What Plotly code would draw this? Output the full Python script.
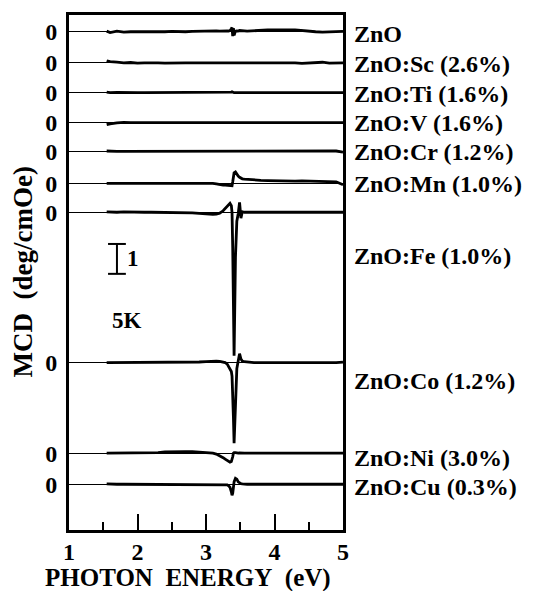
import plotly.graph_objects as go

# ---------------- data ----------------
energy = [1.55, 1.6, 1.7, 1.8, 1.9, 2.0, 2.1, 2.2, 2.3, 2.4, 2.5, 2.6, 2.7, 2.8, 2.9, 3.0,
          3.05, 3.1, 3.15, 3.2, 3.25, 3.28, 3.31, 3.33, 3.35, 3.37, 3.38, 3.39, 3.40, 3.41,
          3.43, 3.45, 3.47, 3.49, 3.51, 3.53, 3.56, 3.6, 3.65, 3.7,
          3.8, 3.9, 4.0, 4.1, 4.2, 4.3, 4.4, 4.5, 4.6, 4.7, 4.8, 4.9, 5.0]

samples = ["ZnO", "ZnO:Sc (2.6%)", "ZnO:Ti (1.6%)", "ZnO:V (1.6%)", "ZnO:Cr (1.2%)",
           "ZnO:Mn (1.0%)", "ZnO:Fe (1.0%)", "ZnO:Co (1.2%)", "ZnO:Ni (3.0%)", "ZnO:Cu (0.3%)"]

# vertical offset of each spectrum's zero line (deg/cmOe)
baseline_offsets = [16.67, 15.63, 14.63, 13.63, 12.67, 11.60, 10.63, 5.60, 2.57, 1.53]

mcd_zno = [0.02, -0.03, 0.02, -0.01, 0.0, 0.01, 0.0, 0.0, -0.01, 0.0, 0.01, 0.0, 0.0, 0.01, 0.02, 0.02,
           0.03, 0.02, 0.03, 0.02, 0.03, 0.02, 0.03, 0.02, 0.04, 0.1, 0.14, -0.15, 0.12, -0.12,
           0.02, 0.03, 0.02, 0.04, 0.03, 0.02, 0.03, 0.02, 0.03, 0.03,
           0.04, 0.06, 0.06, 0.07, 0.06, 0.06, 0.04, 0.0, 0.0, -0.01, 0.0, 0.0, 0.01]
mcd_sc = [0.07, 0.04, 0.02, 0.0, 0.01, -0.01, 0.0, 0.01, 0.0, -0.01, 0.0, 0.0, 0.0, 0.0, 0.0, 0.0,
          0.0, 0.01, 0.0, 0.01, 0.0, 0.01, 0.0, 0.0, 0.01, 0.02, 0.01, 0.0, 0.02, 0.0,
          0.0, 0.0, 0.01, 0.0, 0.0, 0.01, 0.0, 0.0, 0.01, 0.0,
          0.0, 0.0, 0.0, 0.0, 0.01, 0.0, -0.02, 0.0, 0.0, 0.02, -0.01, 0.0, 0.0]
mcd_ti = [0.02, 0.0, 0.01, 0.0, 0.01, 0.0, 0.0, 0.0, 0.0, 0.0, 0.0, 0.0, 0.0, 0.0, 0.0, 0.0,
          0.0, 0.0, 0.0, 0.0, 0.0, 0.0, 0.0, 0.0, 0.0, 0.02, 0.03, 0.01, 0.0, 0.0,
          0.0, 0.0, 0.0, 0.0, 0.0, 0.0, 0.0, 0.0, 0.0, 0.0,
          0.0, 0.0, 0.0, 0.0, 0.01, 0.0, 0.0, 0.02, 0.0, 0.0, 0.0, 0.02, 0.0]
mcd_v = [-0.07, -0.04, -0.01, 0.01, 0.0, 0.01, 0.0, 0.0, 0.0, 0.0, 0.0, 0.0, 0.0, 0.0, 0.0, 0.0,
         0.0, 0.0, 0.0, 0.0, 0.0, 0.0, 0.0, 0.0, 0.01, 0.02, 0.01, 0.01, 0.02, 0.02,
         0.02, 0.02, 0.02, 0.01, 0.02, 0.02, 0.01, 0.01, 0.02, 0.01,
         0.0, 0.0, 0.0, 0.0, 0.0, 0.0, 0.0, 0.01, 0.0, 0.0, 0.0, 0.01, 0.0]
mcd_cr = [0.01, 0.0, 0.0, 0.0, 0.0, 0.0, 0.0, 0.0, 0.0, 0.0, 0.0, 0.0, 0.0, 0.0, 0.0, 0.0,
          0.0, 0.0, 0.0, 0.0, 0.0, 0.0, 0.0, 0.0, 0.0, 0.01, 0.02, 0.02, 0.01, 0.01,
          0.01, 0.01, 0.01, 0.01, 0.01, 0.01, 0.01, 0.01, 0.01, 0.01,
          0.01, 0.01, 0.02, 0.01, 0.01, 0.01, 0.01, 0.01, 0.01, 0.02, 0.01, 0.01, -0.03]
mcd_mn = [0.0, 0.0, 0.0, 0.0, 0.0, 0.0, 0.0, 0.0, 0.0, 0.0, 0.0, 0.0, 0.0, 0.01, 0.01, 0.0,
          0.0, 0.0, -0.02, -0.05, -0.06, -0.06, -0.07, -0.08, -0.09, -0.1, -0.08, 0.05, 0.25, 0.35,
          0.38, 0.3, 0.24, 0.2, 0.17, 0.15, 0.14, 0.13, 0.12, 0.12,
          0.1, 0.09, 0.08, 0.08, 0.07, 0.07, 0.08, 0.07, 0.07, 0.06, 0.06, 0.05, -0.05]
mcd_fe = [0.01, 0.0, 0.0, 0.01, 0.0, 0.0, 0.0, 0.0, 0.0, 0.0, 0.0, 0.0, -0.01, -0.02, -0.04, -0.06,
          -0.07, -0.07, -0.06, -0.03, 0.05, 0.12, 0.2, 0.26, 0.3, 0.22, 0.0, -1.2, -3.5, -4.8,
          -1.5, -0.3, -0.05, 0.33, -0.2, 0.02, 0.0, 0.0, 0.0, 0.0,
          0.0, 0.0, 0.0, 0.0, 0.0, 0.0, 0.0, 0.0, 0.0, 0.0, 0.0, 0.0, 0.0]
mcd_co = [0.0, 0.0, 0.0, 0.0, 0.0, 0.0, 0.0, 0.0, 0.0, 0.0, 0.0, 0.0, 0.0, 0.0, 0.02, 0.03,
          0.04, 0.05, 0.05, 0.04, 0.02, 0.0, -0.05, -0.12, -0.2, -0.3, -0.45, -0.9, -1.8, -2.7,
          -1.2, -0.2, 0.05, 0.3, 0.12, 0.05, 0.03, 0.02, 0.01, 0.0,
          0.0, 0.0, -0.02, 0.0, 0.0, 0.0, 0.0, 0.0, 0.0, 0.0, 0.0, 0.0, 0.02]
mcd_ni = [0.0, 0.0, 0.0, 0.0, 0.0, 0.0, 0.0, 0.0, 0.02, 0.04, 0.05, 0.05, 0.05, 0.05, 0.04, 0.03,
          0.02, 0.0, -0.03, -0.08, -0.15, -0.2, -0.25, -0.28, -0.3, -0.28, -0.22, -0.12, 0.0, 0.02,
          0.02, 0.0, 0.0, 0.01, 0.0, 0.0, 0.0, 0.0, 0.0, 0.0,
          0.0, 0.0, 0.0, 0.0, 0.0, 0.0, 0.0, 0.0, 0.0, -0.01, 0.0, 0.0, 0.0]
mcd_cu = [0.01, 0.0, 0.0, 0.0, 0.0, 0.0, 0.0, 0.0, 0.0, 0.0, 0.0, 0.0, 0.0, 0.0, 0.0, 0.0,
          0.0, 0.0, 0.0, 0.0, 0.0, 0.0, -0.02, -0.05, -0.1, -0.25, -0.37, -0.3, -0.1, 0.08,
          0.2, 0.17, 0.08, 0.04, 0.02, 0.01, 0.0, 0.0, 0.0, 0.0,
          0.0, 0.0, 0.0, 0.0, 0.0, 0.0, 0.0, 0.0, 0.0, 0.0, 0.0, 0.0, 0.0]

spectra = [mcd_zno, mcd_sc, mcd_ti, mcd_v, mcd_cr, mcd_mn, mcd_fe, mcd_co, mcd_ni, mcd_cu]

x_ticks = [1, 2, 3, 4, 5]
x_minor_ticks = [1.5, 2.5, 3.5, 4.5]

# ---------------- layout settings ----------------
label_y = [16.6, 15.6, 14.6, 13.63, 12.63, 11.57, 9.17, 5.0, 2.4, 1.43]
scale_bar_x = 1.70
scale_bar_y0 = 8.57
scale_bar_len = 1.0
serif = "Liberation Serif, Times New Roman, serif"

fig = go.Figure()
for name, vals, off in zip(samples, spectra, baseline_offsets):
    fig.add_trace(go.Scatter(
        x=energy, y=[v + off for v in vals], mode="lines", name=name,
        line=dict(color="black", width=2.8), showlegend=False, hoverinfo="skip"))

# right-hand sample labels
for name, ly in zip(samples, label_y):
    fig.add_annotation(x=1, xref="paper", xshift=9, xanchor="left",
                       y=ly, yref="y", yanchor="middle", showarrow=False,
                       text=name, font=dict(family=serif, size=24, color="black", weight="bold"))

# scale bar
fig.add_shape(type="line", x0=scale_bar_x, x1=scale_bar_x, y0=scale_bar_y0,
              y1=scale_bar_y0 + scale_bar_len, line=dict(color="black", width=2))
for yy in (scale_bar_y0, scale_bar_y0 + scale_bar_len):
    fig.add_shape(type="line", x0=scale_bar_x - 0.13, x1=scale_bar_x + 0.13, y0=yy, y1=yy,
                  line=dict(color="black", width=2))
fig.add_annotation(x=scale_bar_x + 0.12, xanchor="left", y=scale_bar_y0 + scale_bar_len / 2,
                   yanchor="middle", showarrow=False, text="1",
                   font=dict(family=serif, size=23, color="black", weight="bold"))
fig.add_annotation(x=1.85, xanchor="center", y=7.0, yanchor="middle", showarrow=False,
                   text="5K", font=dict(family=serif, size=23, color="black", weight="bold"))

# axis titles
fig.add_annotation(x=0, xref="paper", xshift=-47, xanchor="center",
                   y=0.5, yref="paper", yanchor="middle", textangle=-90, showarrow=False,
                   text="MCD\u00a0 (deg/cmOe)",
                   font=dict(family=serif, size=27, color="black", weight="bold"))
fig.add_annotation(x=0.434, xref="paper", xanchor="center",
                   y=0, yref="paper", yshift=-48, yanchor="middle", showarrow=False,
                   text="PHOTON\u00a0\u00a0ENERGY\u00a0\u00a0(eV)",
                   font=dict(family=serif, size=25, color="black", weight="bold"))

fig.update_layout(
    width=550, height=591,
    margin=dict(l=69, r=207, t=13, b=61),
    paper_bgcolor="white", plot_bgcolor="white",
    xaxis=dict(range=[1, 5], tickvals=x_ticks, ticks="inside", ticklen=16, tickwidth=2,
               tickcolor="black", ticklabelstandoff=-2,
               minor=dict(tickvals=x_minor_ticks, ticks="inside", ticklen=8, tickwidth=2,
                          tickcolor="black"),
               showline=True, linewidth=3, linecolor="black", mirror=True,
               showgrid=False, zeroline=False,
               tickfont=dict(family=serif, size=24, color="black", weight="bold")),
    yaxis=dict(range=[0, 17.23], tickvals=baseline_offsets, ticktext=["0"] * len(baseline_offsets),
               ticks="", ticklabelstandoff=4,
               showgrid=True, gridcolor="black", gridwidth=1,
               showline=True, linewidth=3, linecolor="black", mirror=True, zeroline=False,
               tickfont=dict(family=serif, size=24, color="black", weight="bold")),
)

fig.write_html("out.html", config={"displayModeBar": False},
               post_script="document.body.style.margin='0';document.body.style.overflow='hidden';")
